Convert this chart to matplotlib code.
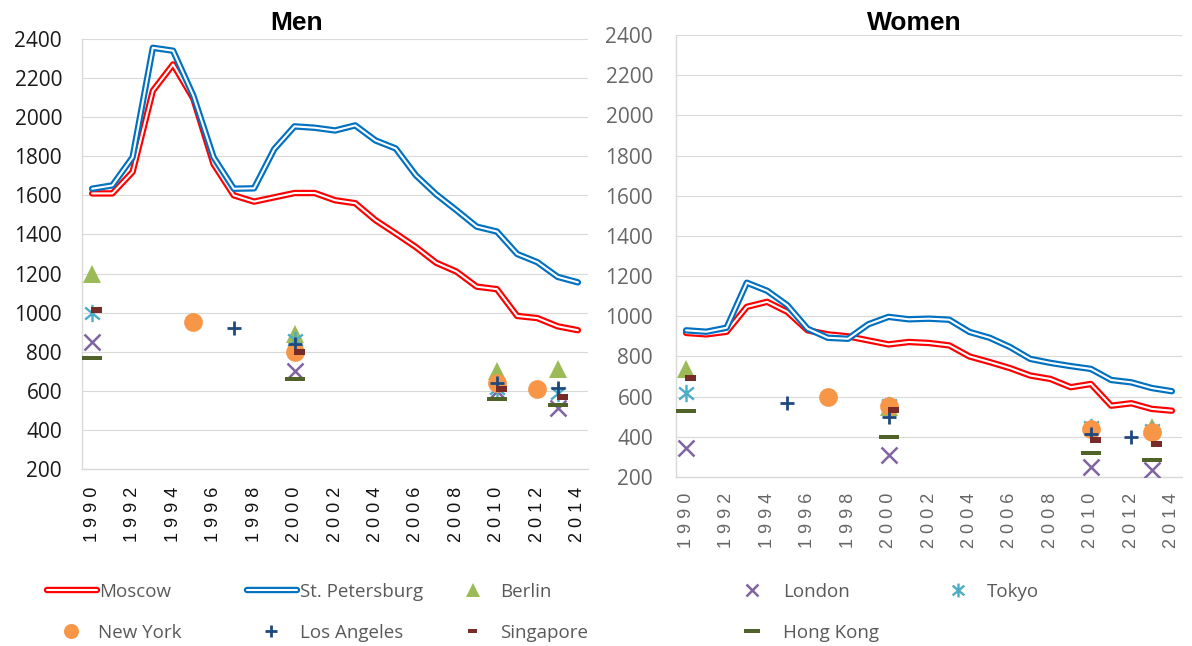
import matplotlib
matplotlib.use("Agg")
import matplotlib.pyplot as plt
from matplotlib.path import Path
from matplotlib.lines import Line2D

# ---------------- data ----------------
years = list(range(1990, 2015))
tick_years = list(range(1990, 2015, 2))
y_ticks = list(range(200, 2401, 200))

men_moscow = [1610, 1610, 1720, 2135, 2270, 2095, 1760, 1600, 1568, 1590, 1612, 1612, 1575,
              1560, 1473, 1405, 1335, 1255, 1210, 1133, 1120, 983, 972, 930, 910]
men_spb = [1634, 1651, 1795, 2355, 2340, 2110, 1795, 1634, 1636, 1837, 1953, 1946, 1932,
           1958, 1881, 1840, 1702, 1605, 1524, 1440, 1415, 1300, 1258, 1183, 1155]
women_moscow = [917, 910, 923, 1047, 1072, 1022, 930, 910, 900, 880, 860, 872, 867,
                855, 800, 772, 742, 705, 688, 647, 663, 555, 567, 539, 530]
women_spb = [930, 923, 943, 1167, 1127, 1055, 938, 893, 888, 960, 997, 985, 988,
             983, 922, 893, 847, 788, 768, 752, 738, 683, 671, 643, 627]

berlin_men_years = [1990, 2000, 2010, 2013]
berlin_men = [1200, 890, 700, 710]
london_men_years = [1990, 2000, 2010, 2013]
london_men = [850, 700, 600, 510]
tokyo_men_years = [1990, 2000, 2010, 2013]
tokyo_men = [1000, 860, 615, 590]
newyork_men_years = [1995, 2000, 2010, 2012]
newyork_men = [950, 800, 640, 610]
la_men_years = [1997, 2000, 2010, 2013]
la_men = [920, 840, 640, 615]
singapore_men_years = [1990, 2000, 2010, 2013]
singapore_men = [1015, 800, 610, 570]
hongkong_men_years = [1990, 2000, 2010, 2013]
hongkong_men = [770, 660, 560, 530]

berlin_women_years = [1990, 2000, 2013]
berlin_women = [740, 550, 450]
london_women_years = [1990, 2000, 2010, 2013]
london_women = [345, 310, 250, 235]
tokyo_women_years = [1990, 2000, 2010, 2013]
tokyo_women = [620, 560, 450, 432]
newyork_women_years = [1997, 2000, 2010, 2013]
newyork_women = [600, 555, 437, 425]
la_women_years = [1995, 2000, 2010, 2012]
la_women = [570, 500, 415, 400]
singapore_women_years = [1990, 2000, 2010, 2013]
singapore_women = [692, 533, 385, 365]
hongkong_women_years = [1990, 2000, 2010, 2013]
hongkong_women = [527, 400, 317, 287]

# ---------------- styles ----------------
W, H = 1192, 646
RED = "#FF0000"
BLUE = "#0070C0"
GRID = "#D9D9D9"

sing_marker = Path([(-0.1, -0.25), (1, -0.25), (1, 0.25), (-0.1, 0.25), (-0.1, -0.25)],
                   [Path.MOVETO, Path.LINETO, Path.LINETO, Path.LINETO, Path.CLOSEPOLY])
hk_marker = Path([(-1, -0.26), (1, -0.26), (1, 0.26), (-1, 0.26), (-1, -0.26)],
                 [Path.MOVETO, Path.LINETO, Path.LINETO, Path.LINETO, Path.CLOSEPOLY])
star_marker = Path([(0, -1), (0, 1), (-0.85, -0.7), (0.85, 0.7), (-0.85, 0.7), (0.85, -0.7)],
                   [Path.MOVETO, Path.LINETO, Path.MOVETO, Path.LINETO, Path.MOVETO, Path.LINETO])

marker_styles = {
    "Berlin": dict(marker="^", color="#9BBB59", ms=13, mew=0),
    "London": dict(marker="x", color="#8064A2", ms=11.5, mew=1.8, mfc="none"),
    "Tokyo": dict(marker=star_marker, color="#4BACC6", ms=12.5, mew=1.7, mfc="none"),
    "New York": dict(marker="o", color="#F79646", ms=13.5, mew=0),
    "Los Angeles": dict(marker="+", color="#1F497D", ms=10.5, mew=2.0),
    "Singapore": dict(marker=sing_marker, color="#772C2A", ms=14.5, mew=0),
    "Hong Kong": dict(marker=hk_marker, color="#4F6228", ms=13.7, mew=0),
}


def fx(px):
    return px / W


def fy(py):
    return 1 - py / H


def spaced(y):
    return " ".join(str(y))


fig = plt.figure(figsize=(11.92, 6.46), dpi=100)
axL = fig.add_axes([fx(82), fy(469), (588 - 82) / W, (469 - 39) / H])
axR = fig.add_axes([fx(676), fy(477), (1182 - 676) / W, (477 - 35) / H])


def style_axis(ax, xcol, ycol, xpad, ypad):
    ax.set_xlim(1989.5, 2014.5)
    ax.set_ylim(200, 2400)
    ax.set_yticks(y_ticks)
    ax.set_yticklabels([str(v) for v in y_ticks], fontsize=15, family="Open Sans", color=ycol)
    ax.set_xticks(tick_years)
    ax.set_xticklabels([spaced(v) for v in tick_years], rotation=90, fontsize=13,
                       family=["Liberation Sans", "DejaVu Sans"], color=xcol)
    ax.tick_params(axis="x", length=0, pad=xpad)
    ax.tick_params(axis="y", length=0, pad=ypad)
    ax.grid(axis="y", color=GRID, lw=0.8)
    ax.set_axisbelow(True)
    for s in ["top", "right"]:
        ax.spines[s].set_visible(False)
    for s in ["left", "bottom"]:
        ax.spines[s].set_color(GRID)
        ax.spines[s].set_linewidth(1.0)


style_axis(axL, "#111111", "#1a1a1a", 13, 14.4)
style_axis(axR, "#666666", "#666666", 11.5, 16.5)

OUT_LW, IN_LW = 4.6, 1.5


def double_line(ax, x, y, color):
    ax.plot(x, y, color=color, lw=OUT_LW, solid_joinstyle="round", solid_capstyle="round", zorder=2)
    ax.plot(x, y, color="white", lw=IN_LW, solid_joinstyle="round", solid_capstyle="round", zorder=2)


double_line(axL, years, men_moscow, RED)
double_line(axL, years, men_spb, BLUE)
double_line(axR, years, women_moscow, RED)
double_line(axR, years, women_spb, BLUE)

men_points = [
    ("Berlin", berlin_men_years, berlin_men),
    ("London", london_men_years, london_men),
    ("Tokyo", tokyo_men_years, tokyo_men),
    ("New York", newyork_men_years, newyork_men),
    ("Los Angeles", la_men_years, la_men),
    ("Singapore", singapore_men_years, singapore_men),
    ("Hong Kong", hongkong_men_years, hongkong_men),
]
women_points = [
    ("Berlin", berlin_women_years, berlin_women),
    ("London", london_women_years, london_women),
    ("Tokyo", tokyo_women_years, tokyo_women),
    ("New York", newyork_women_years, newyork_women),
    ("Los Angeles", la_women_years, la_women),
    ("Singapore", singapore_women_years, singapore_women),
    ("Hong Kong", hongkong_women_years, hongkong_women),
]


def draw_points(ax, pts):
    for i, (name, xs, ys) in enumerate(pts):
        st = dict(marker_styles[name])
        col = st.pop("color")
        mfc = st.pop("mfc", col)
        ax.plot(xs, ys, linestyle="none", color=col, mfc=mfc, mec=col, zorder=3 + i, **st)


draw_points(axL, men_points)
draw_points(axR, women_points)

# titles
fig.text(fx(297), fy(30), "Men", ha="center", va="baseline", fontsize=19,
         fontweight="bold", family="Liberation Sans")
fig.text(fx(914), fy(30), "Women", ha="center", va="baseline", fontsize=19,
         fontweight="bold", family="Liberation Sans")

# legend (manual, Excel-like layout)
LEG_TXT = "#595959"
row1, row2 = 590, 631
for (x0, x1, col, tx, label) in [(47, 97, RED, 99, "Moscow"), (247, 297, BLUE, 300, "St. Petersburg")]:
    fig.add_artist(Line2D([fx(x0), fx(x1)], [fy(row1)] * 2, transform=fig.transFigure,
                          color=col, lw=OUT_LW, solid_capstyle="round"))
    fig.add_artist(Line2D([fx(x0), fx(x1)], [fy(row1)] * 2, transform=fig.transFigure,
                          color="white", lw=IN_LW, solid_capstyle="round"))
    fig.text(fx(tx), fy(row1 + 7), label, ha="left", va="baseline", fontsize=13.5,
             family="Open Sans", color=LEG_TXT)

legend_markers = [
    ("Berlin", 473, 500, row1), ("London", 752, 783, row1), ("Tokyo", 958, 987, row1),
    ("New York", 71, 98, row2), ("Los Angeles", 271, 300, row2),
    ("Singapore", 473, 500, row2), ("Hong Kong", 752, 783, row2),
]
for name, mx, tx, ry in legend_markers:
    st = dict(marker_styles[name])
    col = st.pop("color")
    mfc = st.pop("mfc", col)
    ms = st.pop("ms") * 0.8
    if name == "Singapore":
        mx -= 4
    fig.add_artist(Line2D([fx(mx)], [fy(ry)], transform=fig.transFigure, linestyle="none",
                          color=col, mfc=mfc, mec=col, ms=ms, **st))
    fig.text(fx(tx), fy(ry + 7), name, ha="left", va="baseline", fontsize=13.5,
             family="Open Sans", color=LEG_TXT)

fig.savefig("out.png", dpi=100)
